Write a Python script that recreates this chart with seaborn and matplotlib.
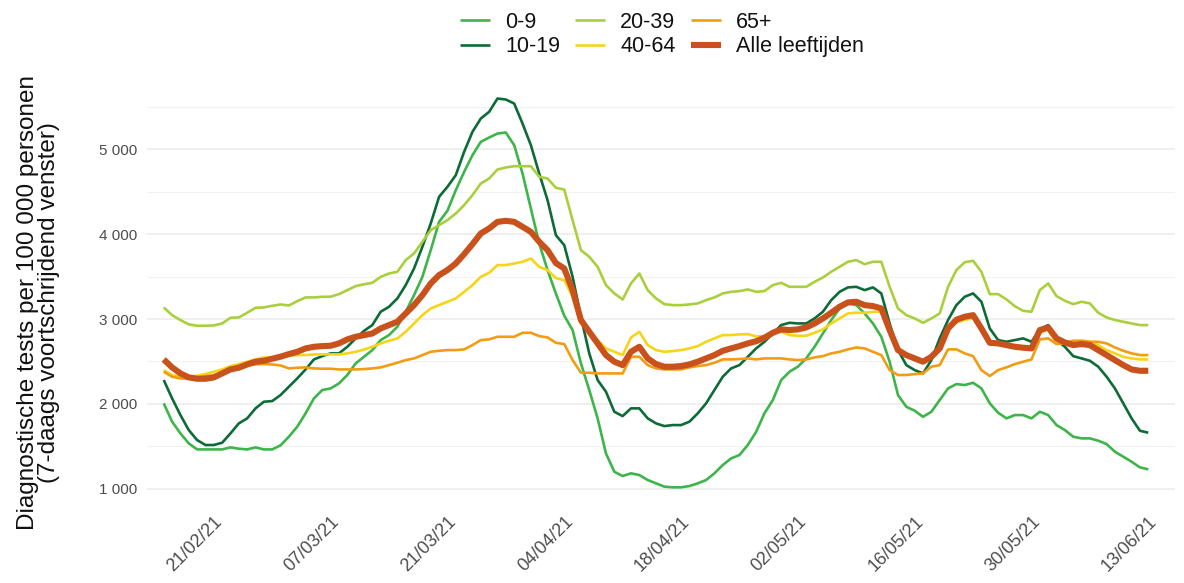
import numpy as np
import pandas as pd
import matplotlib
matplotlib.use("Agg")
import matplotlib.pyplot as plt
import matplotlib.dates as mdates
from matplotlib.ticker import FuncFormatter, MultipleLocator
import seaborn as sns

start_date = "2021-02-15"
n_days = 119

age_0_9 = [2006,1790,1652,1534,1463,1463,1463,1463,1487,1471,1463,1487,1463,1463,1511,1613,1731,1888,2065,2163,2182,2241,2340,2477,2555,
           2634,2752,2811,2909,3086,3282,3498,3812,4146,4276,4519,4735,4932,5089,5140,5187,5199,5050,4716,4303,3891,3577,3300,3040,
           2870,2477,2163,1829,1416,1200,1149,1181,1161,1102,1063,1024,1016,1016,1031,1063,1102,1181,1279,1357,1397,1515,1670,1890,
           2045,2281,2379,2438,2536,2673,2830,2988,3125,3184,3164,3066,2948,2791,2497,2104,1966,1919,1848,1907,2045,2182,2233,2222,
           2249,2182,2006,1896,1829,1868,1868,1829,1907,1868,1750,1691,1613,1593,1593,1566,1526,1436,1377,1318,1251,1228]
age_10_19 = [2281,2065,1868,1691,1573,1515,1515,1542,1652,1770,1829,1947,2025,2033,2104,2202,2300,2406,2524,2563,2595,2595,2673,2771,2860,
             2929,3086,3145,3243,3400,3596,3852,4127,4441,4559,4696,4971,5207,5364,5443,5600,5588,5541,5305,5050,4716,4402,3989,3871,
             3498,3027,2595,2281,2143,1907,1856,1947,1947,1829,1770,1738,1750,1750,1790,1888,2006,2163,2320,2418,2457,2555,2654,2732,
             2830,2929,2956,2948,2948,3007,3086,3223,3321,3373,3380,3341,3373,3302,2948,2634,2457,2398,2359,2516,2772,2988,3164,3263,
             3302,3204,2889,2752,2732,2752,2772,2732,2878,2929,2752,2673,2563,2536,2508,2438,2320,2182,2006,1829,1683,1660]
age_20_39 = [3137,3046,2988,2937,2921,2921,2925,2948,3015,3019,3074,3133,3137,3156,3172,3160,3211,3255,3255,3263,3263,3294,3341,3388,3410,
             3427,3498,3537,3557,3695,3773,3911,4048,4107,4166,4244,4343,4461,4598,4657,4763,4787,4802,4802,4802,4677,4657,4547,4527,
             4166,3812,3734,3616,3400,3302,3231,3420,3537,3341,3243,3176,3164,3164,3172,3184,3223,3255,3302,3321,3329,3349,3321,3330,
             3400,3427,3380,3380,3380,3439,3490,3557,3616,3675,3695,3647,3675,3675,3380,3125,3046,3007,2956,3007,3066,3380,3577,3670,
             3687,3557,3294,3294,3231,3152,3097,3086,3341,3420,3270,3215,3176,3204,3184,3074,3019,2988,2968,2948,2929,2929]
age_40_64 = [2398,2339,2320,2320,2332,2351,2379,2406,2445,2469,2497,2524,2548,2540,2556,2567,2575,2575,2583,2583,2583,2583,2595,2614,2640,
             2673,2713,2744,2771,2850,2948,3046,3125,3164,3204,3243,3321,3400,3498,3545,3636,3636,3655,3675,3714,3616,3577,3483,3459,
             3263,2948,2850,2752,2654,2614,2575,2783,2850,2693,2634,2614,2622,2634,2654,2681,2732,2772,2811,2811,2819,2823,2795,2799,
             2838,2850,2811,2803,2803,2838,2878,2948,3007,3066,3074,3074,3086,3086,2870,2634,2555,2524,2485,2555,2634,2878,2958,2992,
             3007,2889,2732,2732,2693,2673,2654,2654,2838,2878,2713,2713,2732,2744,2732,2693,2634,2595,2555,2536,2524,2524]
age_65_plus = [2379,2320,2300,2296,2312,2328,2336,2359,2398,2418,2453,2465,2469,2465,2453,2418,2426,2430,2418,2414,2414,2406,2406,2406,2410,
               2418,2430,2457,2485,2516,2536,2575,2614,2626,2634,2634,2642,2693,2752,2760,2791,2791,2791,2838,2838,2799,2783,2720,2705,
               2516,2367,2367,2359,2359,2359,2359,2555,2555,2457,2418,2406,2406,2406,2430,2446,2457,2485,2524,2524,2528,2536,2524,2536,
               2536,2536,2524,2516,2524,2548,2563,2595,2614,2642,2665,2654,2614,2575,2398,2340,2340,2351,2359,2438,2457,2642,2642,2595,
               2563,2398,2328,2398,2430,2469,2497,2524,2760,2772,2705,2720,2744,2744,2732,2732,2713,2665,2626,2595,2575,2575]
all_ages = [2524,2430,2359,2312,2296,2296,2312,2359,2406,2426,2465,2497,2508,2532,2556,2587,2614,2654,2673,2681,2685,2713,2760,2791,2810,
            2830,2889,2929,2968,3066,3164,3282,3420,3518,3577,3655,3765,3883,4009,4068,4146,4158,4146,4087,4028,3911,3812,3660,3596,
            3341,2988,2850,2713,2575,2497,2457,2614,2673,2536,2469,2438,2438,2446,2465,2497,2536,2575,2626,2654,2681,2713,2738,2780,
            2838,2878,2870,2878,2901,2948,3007,3074,3145,3196,3204,3164,3153,3125,2870,2634,2575,2536,2497,2555,2654,2889,2992,3027,
            3046,2889,2720,2713,2693,2673,2662,2654,2870,2901,2772,2724,2693,2705,2693,2634,2575,2516,2457,2406,2390,2390]

series_names = ["0-9", "10-19", "20-39", "40-64", "65+", "Alle leeftijden"]
series_values = [age_0_9, age_10_19, age_20_39, age_40_64, age_65_plus, all_ages]
colors = ["#3db54a", "#0d6b37", "#a9d03c", "#f7d417", "#f39c12", "#c9511b"]
widths = [1.9, 1.9, 1.9, 1.9, 1.9, 4.4]

tick_dates = ["2021-02-21", "2021-03-07", "2021-03-21", "2021-04-04", "2021-04-18",
              "2021-05-02", "2021-05-16", "2021-05-30", "2021-06-13"]
y_ticks = [1000, 2000, 3000, 4000, 5000]

dates = pd.date_range(start_date, periods=n_days, freq="D")
frames = []
for name, vals in zip(series_names, series_values):
    frames.append(pd.DataFrame({"date": dates, "value": vals, "group": name}))
df = pd.concat(frames, ignore_index=True)

sns.set_theme(style="white")
plt.rcParams["font.family"] = ["Liberation Sans", "DejaVu Sans"]

fig = plt.figure(figsize=(11.84, 5.83), dpi=100)
ax = fig.add_axes([0.1242, 0.1286, 0.8682, 0.7359])

for name, c, lw in zip(series_names, colors, widths):
    sub = df[df["group"] == name]
    sns.lineplot(data=sub, x="date", y="value", color=c, linewidth=lw, label=name, ax=ax,
                 solid_joinstyle="round", solid_capstyle="butt")

ax.set_xlim(pd.Timestamp(start_date) - pd.Timedelta(days=2.0),
            pd.Timestamp(start_date) + pd.Timedelta(days=121.2))
ax.set_ylim(772, 5830)

ax.set_xticks(pd.to_datetime(tick_dates))
ax.xaxis.set_major_formatter(mdates.DateFormatter("%d/%m/%y"))
ax.set_yticks(y_ticks)
ax.yaxis.set_minor_locator(MultipleLocator(500))
ax.yaxis.set_major_formatter(FuncFormatter(lambda v, p: f"{int(v):,}".replace(",", " ")))

ax.grid(axis="y", which="major", color="#ebebeb", linewidth=1.1)
ax.grid(axis="y", which="minor", color="#f2f2f2", linewidth=0.8)
ax.grid(axis="x", visible=False)
ax.set_axisbelow(True)
for s in ax.spines.values():
    s.set_visible(False)

ax.tick_params(axis="x", which="major", length=4, width=0.8, color="#333333",
               labelsize=13, labelcolor="#4d4d4d", pad=0)
ax.tick_params(axis="y", which="major", length=4, width=0.8, color="#333333",
               labelsize=11, labelcolor="#4d4d4d", pad=3)
ax.tick_params(axis="y", which="minor", length=0)
for lbl in ax.get_xticklabels():
    lbl.set_rotation(45)
    lbl.set_ha("right")
    lbl.set_rotation_mode("anchor")

ax.set_xlabel("")
ax.set_ylabel("Diagnostische tests per 100 000 personen\n(7-daags voortschrijdend venster)",
              fontsize=17.5, color="#111111", linespacing=0.95)
ax.yaxis.set_label_coords(-0.0846, 0.48)

handles, labels = ax.get_legend_handles_labels()
leg = ax.legend(handles, labels, ncol=3, loc="upper center", bbox_to_anchor=(0.559, 0.991),
                bbox_transform=fig.transFigure, frameon=False, fontsize=15.5,
                handlelength=1.4, handletextpad=0.7, columnspacing=0.7, labelspacing=0.17,
                borderaxespad=0.1, borderpad=0.2)
for t in leg.get_texts():
    t.set_color("#111111")

fig.savefig("out.png", dpi=100)
